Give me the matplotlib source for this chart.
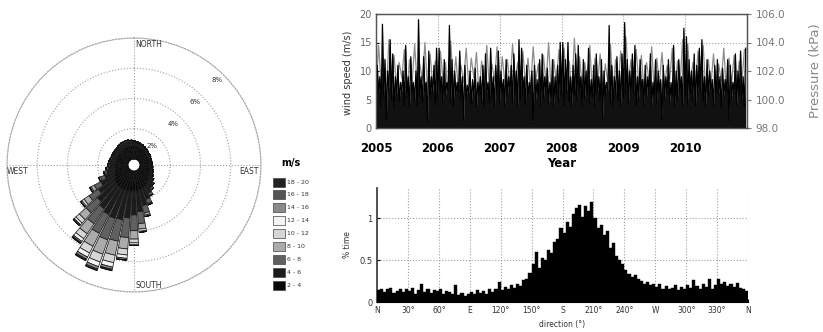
import matplotlib
matplotlib.use('Agg')
import matplotlib.pyplot as plt
from matplotlib.patches import Rectangle
import numpy as np

W, H = 823, 332

# ─── wind rose: % time per 7.5° sector, one list per speed class ────
rose_step = 7.5
speed_bins = ['2 - 4', '4 - 6', '6 - 8', '8 - 10', '10 - 12',
              '12 - 14', '14 - 16', '16 - 18', '18 - 20']
speed_colors = ['#080808', '#1c1c1c', '#606060', '#ababab', '#d6d6d6',
                '#f4f4f4', '#8a8a8a', '#555555', '#222222']
rose_2_4 = [0.82, 0.80, 0.77, 0.74, 0.71, 0.68, 0.65, 0.62, 0.62, 0.60, 0.60, 0.60, 0.60, 0.62, 0.65, 0.68,
            0.74, 0.82, 0.92, 1.00, 1.10, 1.20, 1.25, 1.30, 1.30, 1.32, 1.35, 1.35, 1.32, 1.30, 1.25, 1.15,
            1.05, 0.95, 0.88, 0.84, 0.82, 0.80, 0.78, 0.78, 0.78, 0.78, 0.78, 0.80, 0.82, 0.82, 0.84, 0.84]
rose_4_6 = [0.30, 0.28, 0.27, 0.26, 0.24, 0.23, 0.21, 0.19, 0.19, 0.17, 0.17, 0.17, 0.17, 0.19, 0.21, 0.22,
            0.26, 0.30, 0.38, 0.45, 0.58, 0.80, 1.10, 1.40, 1.60, 1.80, 1.95, 2.00, 1.95, 1.80, 1.60, 1.30,
            1.00, 0.70, 0.55, 0.45, 0.38, 0.36, 0.34, 0.32, 0.32, 0.32, 0.32, 0.33, 0.34, 0.34, 0.33, 0.31]
rose_6_8 = [0.08, 0.07, 0.06, 0.05, 0.05, 0.04, 0.04, 0.04, 0.04, 0.03, 0.03, 0.03, 0.03, 0.04, 0.04, 0.05,
            0.05, 0.08, 0.10, 0.15, 0.20, 0.30, 0.50, 0.80, 1.05, 1.30, 1.45, 1.50, 1.40, 1.20, 1.00, 0.75,
            0.50, 0.30, 0.17, 0.13, 0.10, 0.09, 0.08, 0.07, 0.07, 0.07, 0.07, 0.08, 0.09, 0.09, 0.09, 0.08]
rose_8_10 = [0, 0, 0, 0, 0, 0, 0, 0, 0, 0, 0, 0, 0, 0, 0, 0,
             0, 0, 0, 0, 0.02, 0.06, 0.15, 0.35, 0.55, 0.75, 0.95, 1.00, 0.95, 0.80, 0.60, 0.40,
             0.22, 0.10, 0.06, 0.05, 0.04, 0.04, 0.03, 0.03, 0.03, 0.03, 0.03, 0.04, 0.04, 0.04, 0.04, 0.02]
rose_10_12 = [0, 0, 0, 0, 0, 0, 0, 0, 0, 0, 0, 0, 0, 0, 0, 0,
              0, 0, 0, 0, 0, 0.04, 0.07, 0.15, 0.25, 0.40, 0.50, 0.55, 0.50, 0.40, 0.30, 0.17,
              0.08, 0.03, 0, 0, 0, 0, 0, 0, 0, 0, 0, 0, 0, 0, 0, 0]
rose_12_14 = [0, 0, 0, 0, 0, 0, 0, 0, 0, 0, 0, 0, 0, 0, 0, 0,
              0, 0, 0, 0, 0, 0, 0.03, 0.07, 0.13, 0.22, 0.30, 0.32, 0.30, 0.22, 0.15, 0.08,
              0.04, 0, 0, 0, 0, 0, 0, 0, 0, 0, 0, 0, 0, 0, 0, 0]
rose_14_16 = [0, 0, 0, 0, 0, 0, 0, 0, 0, 0, 0, 0, 0, 0, 0, 0,
              0, 0, 0, 0, 0, 0, 0, 0, 0.05, 0.10, 0.15, 0.17, 0.16, 0.10, 0.07, 0.03,
              0, 0, 0, 0, 0, 0, 0, 0, 0, 0, 0, 0, 0, 0, 0, 0]
rose_16_18 = [0, 0, 0, 0, 0, 0, 0, 0, 0, 0, 0, 0, 0, 0, 0, 0,
              0, 0, 0, 0, 0, 0, 0, 0, 0, 0.03, 0.07, 0.08, 0.07, 0.05, 0.03, 0,
              0, 0, 0, 0, 0, 0, 0, 0, 0, 0, 0, 0, 0, 0, 0, 0]
rose_18_20 = [0, 0, 0, 0, 0, 0, 0, 0, 0, 0, 0, 0, 0, 0, 0, 0,
              0, 0, 0, 0, 0, 0, 0, 0, 0, 0, 0.03, 0.04, 0.05, 0.03, 0, 0,
              0, 0, 0, 0, 0, 0, 0, 0, 0, 0, 0, 0, 0, 0, 0, 0]
rose_classes = [rose_2_4, rose_4_6, rose_6_8, rose_8_10, rose_10_12,
                rose_12_14, rose_14_16, rose_16_18, rose_18_20]
rose_rings = [2, 4, 6, 8]
rose_ring_labels = ['2%', '4%', '6%', '8%']

# ─── time series: wind speed (m/s) and pressure (kPa), 2005-2010 ───
years = [2005, 2006, 2007, 2008, 2009, 2010]
wind_speed = [
    4.5, 11, 6.0, 9, 3.8, 18.2, 5.5, 12, 1.5, 10, 6.5, 15.5, 5.0, 13, 3.5, 9, 5.8, 11, 4.6, 8, 6.2, 10, 4.0, 14.5,
    5.4, 9, 3.6, 12.5, 6.0, 8, 4.8, 10, 3.9, 19, 5.6, 9, 4.4, 12.5, 6.4, 8, 1.2, 13.5, 5.2, 9, 6.1, 11, 4.1, 14,
    5.0, 14, 6.2, 9, 4.3, 12, 5.7, 8, 6.6, 18, 4.5, 12, 3.8, 10, 5.9, 8, 6.3, 13.5, 4.7, 9, 1.4, 11, 5.3, 7.5,
    6.0, 10, 4.2, 8.5, 5.6, 10.5, 3.6, 8, 5.8, 9, 4.6, 11, 3.7, 13, 6.2, 8, 4.4, 14, 5.1, 9, 3.8, 11, 6.0, 13.5,
    4.4, 10, 6.1, 8.5, 3.9, 12, 5.5, 9, 6.4, 11, 4.3, 13, 5.8, 10, 3.7, 15.5, 5.0, 14, 6.0, 9, 4.1, 11, 5.4, 8,
    6.3, 10, 1.3, 11, 4.8, 8.5, 5.9, 12, 3.9, 13, 5.2, 9, 6.1, 10.5, 4.3, 8, 5.5, 12, 3.8, 9, 6.0, 11, 4.5, 15,
    5.6, 15, 4.0, 12, 6.2, 15, 4.6, 9, 3.8, 11, 5.8, 13, 4.8, 14.5, 6.5, 9, 3.9, 12, 5.2, 10, 6.0, 14, 4.3, 8.5,
    5.5, 11, 3.7, 13, 6.3, 9, 4.7, 12, 1.6, 10, 5.7, 8, 6.4, 18, 4.4, 11, 3.6, 9, 5.9, 12.5, 4.8, 10, 3.9, 13,
    5.3, 18.5, 6.0, 12, 4.2, 10, 5.6, 13, 6.2, 14.5, 3.9, 9, 5.0, 12, 6.5, 8.5, 4.0, 11, 5.4, 9, 6.1, 13, 3.8, 8,
    5.8, 12, 4.4, 10, 6.3, 8.5, 1.5, 11, 5.2, 9, 6.0, 12, 4.3, 8, 5.6, 14.5, 3.6, 10, 4.8, 12, 6.4, 9, 4.0, 17.5,
    5.5, 16, 4.2, 12, 6.1, 10, 4.8, 13, 3.9, 11, 5.8, 14, 6.4, 15.5, 4.5, 9, 3.8, 12, 5.7, 10, 6.2, 8.5, 4.0, 11,
    5.1, 12, 6.0, 9, 3.6, 10.5, 5.6, 8.5, 6.3, 12, 1.3, 11, 5.2, 8, 6.0, 13, 3.9, 10, 5.8, 13.5, 4.6, 9, 3.8, 14,
]
pressure = [
    100.6, 103.8, 101.2, 102.9, 100.3, 104.2, 101.0, 103.1, 100.8, 102.6, 101.5, 103.5,
    100.4, 102.8, 101.1, 103.9, 100.9, 102.5, 101.3, 104.0, 100.5, 103.2, 101.0, 102.7,
    100.7, 103.4, 101.4, 102.6, 100.2, 104.1, 101.0, 103.0, 100.6, 102.4, 101.2, 103.6,
    100.9, 102.9, 101.5, 103.3, 100.4, 102.7, 101.1, 103.8, 100.8, 102.5, 101.3, 103.7,
    100.5, 103.0, 101.2, 102.8, 100.9, 103.9, 101.4, 102.6, 100.3, 103.4, 101.0, 102.9,
    100.7, 103.7, 101.3, 102.5, 100.6, 103.1, 101.1, 104.0, 100.4, 102.8, 101.2, 103.5,
    100.8, 103.6, 101.0, 102.7, 100.5, 104.3, 101.3, 103.0, 100.9, 102.6, 101.4, 103.8,
    100.3, 102.9, 101.1, 103.2, 100.7, 102.5, 101.2, 103.9, 100.6, 102.8, 101.0, 103.4,
    100.9, 104.4, 101.2, 102.8, 100.4, 103.5, 101.0, 103.1, 100.7, 102.6, 101.3, 103.7,
    100.5, 102.9, 101.1, 103.3, 100.8, 102.4, 101.4, 103.6, 100.3, 102.7, 101.0, 104.2,
    100.6, 103.9, 101.1, 102.6, 100.9, 103.4, 101.2, 103.8, 100.5, 102.8, 101.0, 103.2,
    100.7, 102.5, 101.3, 103.6, 100.4, 102.9, 101.1, 103.1, 100.8, 102.7, 101.2, 103.5,
]
wind_ticks = [0, 5, 10, 15, 20]
pressure_ticks = [98, 100, 102, 104, 106]

# ─── direction histogram: % time per 3° bin ─────────────────────────
hist_bin_width = 3
hist_pct = [
    0.14, 0.16, 0.12, 0.15, 0.17, 0.11, 0.13, 0.16, 0.12, 0.15,
    0.13, 0.17, 0.10, 0.14, 0.22, 0.12, 0.15, 0.11, 0.14, 0.13,
    0.15, 0.10, 0.13, 0.12, 0.09, 0.20, 0.08, 0.11, 0.07, 0.10,
    0.12, 0.09, 0.14, 0.11, 0.13, 0.10, 0.15, 0.12, 0.16, 0.24,
    0.14, 0.18, 0.15, 0.20, 0.17, 0.22, 0.19, 0.26, 0.28, 0.35,
    0.45, 0.60, 0.40, 0.52, 0.50, 0.62, 0.58, 0.72, 0.75, 0.88,
    0.82, 0.95, 0.90, 1.05, 1.12, 1.16, 1.02, 1.14, 1.08, 1.19,
    1.00, 0.88, 0.92, 0.80, 0.85, 0.64, 0.70, 0.55, 0.50, 0.45,
    0.38, 0.34, 0.30, 0.32, 0.27, 0.25, 0.22, 0.24, 0.20, 0.22,
    0.18, 0.21, 0.16, 0.19, 0.15, 0.17, 0.20, 0.14, 0.18, 0.16,
    0.20, 0.17, 0.26, 0.19, 0.15, 0.22, 0.18, 0.28, 0.16, 0.20,
    0.27, 0.21, 0.24, 0.19, 0.22, 0.18, 0.23, 0.17, 0.15, 0.13,
]
dir_ticks = [0, 30, 60, 90, 120, 150, 180, 210, 240, 270, 300, 330, 360]
dir_labels = ['N', '30°', '60°', 'E', '120°', '150°', 'S', '210°', '240°',
              'W', '300°', '330°', 'N']

GRID = dict(color='#a0a0a0', linestyle=':', linewidth=0.8)

fig = plt.figure(figsize=(W / 100, H / 100), dpi=100)

# ── wind rose ───────────────────────────────────────────────────────
ax = fig.add_axes([7 / W, 40 / H, 254 / W, 254 / H], projection='polar')
ax.set_theta_zero_location('N')
ax.set_theta_direction(-1)
theta = np.deg2rad(np.arange(len(rose_2_4)) * rose_step)
bottom = np.zeros(len(rose_2_4))
for vals, col in zip(rose_classes, speed_colors):
    vals = np.array(vals, dtype=float)
    ax.bar(theta, vals, width=np.deg2rad(6.5), bottom=bottom, color=col,
           edgecolor='#111111', linewidth=0.5, zorder=3)
    bottom += vals
ax.set_rorigin(-0.4)
ax.set_ylim(0, 8)
ax.set_rgrids(rose_rings, labels=[''] * len(rose_rings))
ax.set_thetagrids([0, 90, 180, 270], labels=[''] * 4)
ax.grid(True, **GRID)
ax.spines['polar'].set_color('#a0a0a0')
ax.spines['polar'].set_linestyle(':')
ax.spines['polar'].set_linewidth(0.8)
ax.set_facecolor('none')

for lab, pos in zip(rose_ring_labels,
                    [(0.571, 0.575), (0.654, 0.661), (0.740, 0.748), (0.827, 0.835)]):
    ax.text(pos[0], pos[1], lab, transform=ax.transAxes, fontsize=5,
            ha='center', va='center', color='#333333', zorder=5)
ax.text(0.504, 0.975, 'NORTH', transform=ax.transAxes, fontsize=5.5, ha='left', va='center', color='#333333')
ax.text(0.992, 0.476, 'EAST', transform=ax.transAxes, fontsize=5.5, ha='right', va='center', color='#333333')
ax.text(0.0, 0.476, 'WEST', transform=ax.transAxes, fontsize=5.5, ha='left', va='center', color='#333333')
ax.text(0.504, 0.025, 'SOUTH', transform=ax.transAxes, fontsize=5.5, ha='left', va='center', color='#333333')

# legend (manual, top = fastest class)
fig.text(291 / W, 1 - 163 / H, 'm/s', fontsize=7, fontweight='bold', ha='center', va='center')
for i, (lab, col) in enumerate(zip(speed_bins[::-1], speed_colors[::-1])):
    yc = 182 + i * 12.9
    fig.add_artist(Rectangle((273 / W, 1 - (yc + 4.5) / H), 12 / W, 9 / H,
                             transform=fig.transFigure, facecolor=col,
                             edgecolor='#444444', linewidth=0.5))
    fig.text(287 / W, 1 - yc / H, lab, fontsize=4.5, ha='left', va='center', color='#333333')

# ── wind speed / pressure time series ──────────────────────────────
ax1 = fig.add_axes([376 / W, (H - 128) / H, 371 / W, 114 / H])
ax2 = ax1.twinx()
t_p = np.linspace(2005, 2011, len(pressure), endpoint=False)
ax2.plot(t_p, pressure, color='#8c8c8c', linewidth=0.9)
ax2.set_ylim(98, 106)
ax2.set_yticks(pressure_ticks)
ax2.set_yticklabels([f'{v:.1f}' for v in pressure_ticks])
ax2.tick_params(axis='y', labelsize=7.5, labelcolor='#777777', color='#777777',
                direction='out', length=3, pad=3)

ax1.set_zorder(ax2.get_zorder() + 1)
ax1.patch.set_visible(False)
t_w = np.linspace(2005, 2011, len(wind_speed), endpoint=False)
ax1.fill_between(t_w, wind_speed, 0, color='#111111', linewidth=0, zorder=2)
ax1.plot(t_w, wind_speed, color='black', linewidth=0.9, zorder=2)
ax1.set_xlim(2005, 2011)
ax1.set_ylim(0, 20)
ax1.set_xticks(years)
ax1.set_xticklabels([str(y) for y in years], fontsize=8.5, fontweight='bold')
ax1.set_yticks(wind_ticks)
ax1.tick_params(axis='y', labelsize=7, labelcolor='#666666', direction='in', length=2, pad=3)
ax1.tick_params(axis='x', direction='in', length=2, pad=10)
ax1.grid(True, **GRID)
for a in (ax1, ax2):
    for s in a.spines.values():
        s.set_color('#555555')
        s.set_linewidth(0.9)
fig.text(562 / W, 1 - 164 / H, 'Year', fontsize=8.5, fontweight='bold', ha='center', va='center')
fig.text(348 / W, 1 - 73 / H, 'wind speed (m/s)', fontsize=7, rotation=90,
         ha='center', va='center', color='#333333')
fig.text(815 / W, 1 - 71 / H, 'Pressure (kPa)', fontsize=9.5, rotation=90,
         ha='center', va='center', color='#888888')

# ── direction histogram ────────────────────────────────────────────
ax3 = fig.add_axes([377 / W, (H - 302) / H, 371 / W, 114 / H])
edges = np.arange(0, 360, hist_bin_width)
ax3.bar(edges, hist_pct, width=hist_bin_width, align='edge', color='black',
        edgecolor='black', linewidth=0.3, zorder=3)
ax3.set_xlim(0, 360)
ax3.set_ylim(0, 1.36)
ax3.set_xticks(dir_ticks)
ax3.set_xticklabels(dir_labels, fontsize=5.5, color='#333333')
ax3.set_yticks([0, 0.5, 1])
ax3.set_yticklabels(['0', '0.5', '1'], fontsize=6, color='#333333')
ax3.tick_params(direction='in', length=2, pad=3)
ax3.grid(True, **GRID)
ax3.spines['top'].set_visible(False)
ax3.spines['right'].set_visible(False)
ax3.spines['left'].set_linewidth(1.3)
ax3.spines['left'].set_color('#444444')
fig.text(348 / W, 1 - 245 / H, '% time', fontsize=5.5, rotation=90,
         ha='center', va='center', color='#333333')
fig.text(562 / W, 1 - 324 / H, 'direction (°)', fontsize=5.5,
         ha='center', va='center', color='#333333')

fig.savefig('out.png', dpi=100)
